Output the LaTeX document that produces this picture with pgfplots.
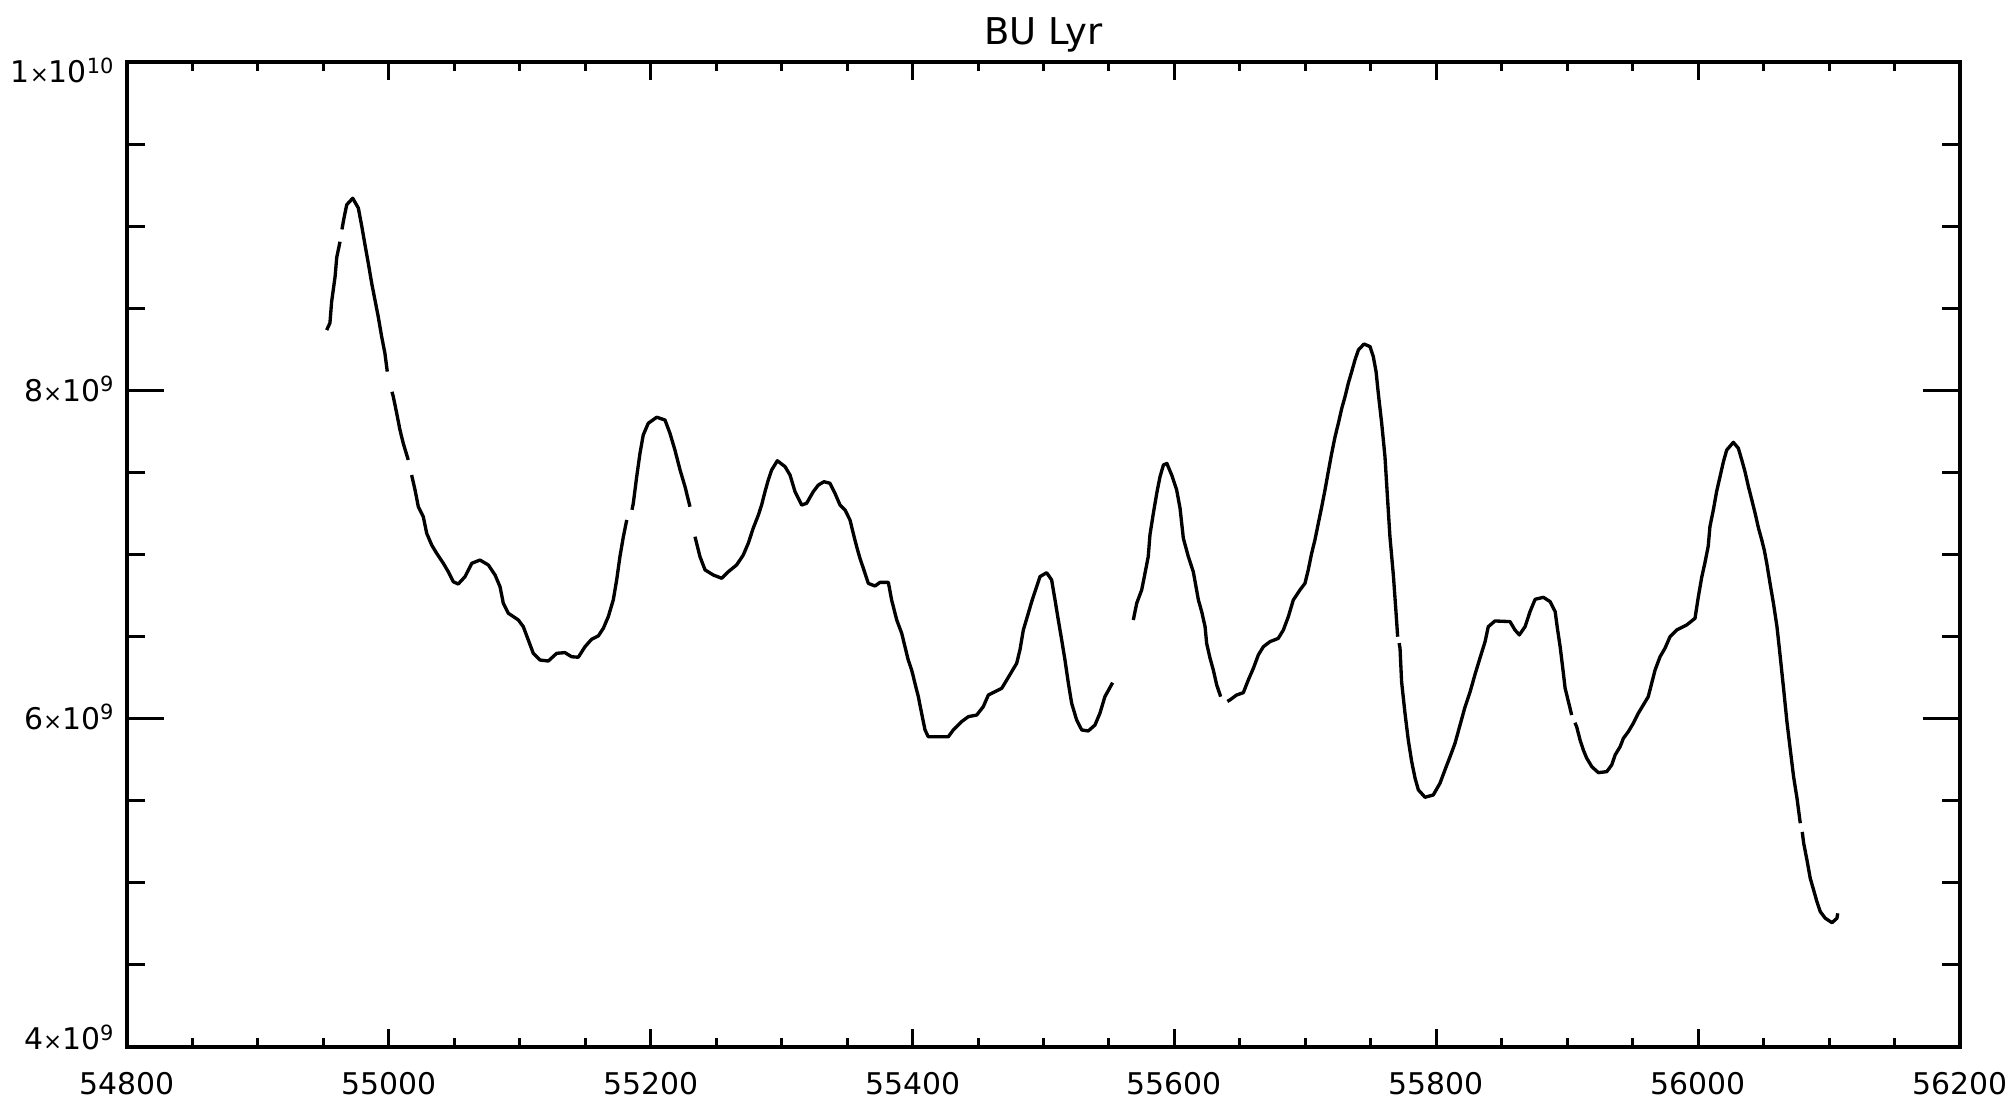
\documentclass[border=0pt]{standalone}
\usepackage{pgfplots}
\pgfplotsset{compat=1.18}
\usepackage{fontspec}
\setmainfont{DejaVu Sans}
\newcommand{\tms}{{\fontsize{6.5}{8}\selectfont ×}}
\begin{document}
\begin{tikzpicture}
\pgfplotsset{
  common/.style={
    scale only axis, width=18.33cm, height=9.85cm,
    xmin=54800, xmax=56200, ymin=4, ymax=10,
    scaled x ticks=false, scaled y ticks=false,
    axis line style={line width=1.1pt, black},
    tick style={line width=0.85pt, black},
    tick label style={font=\fontsize{8.5}{10}\selectfont},
  }
}
\begin{axis}[common, name=main,
  xtick={54800,55000,55200,55400,55600,55800,56000,56200},
  xticklabels={54800,55000,55200,55400,55600,55800,56000,56200},
  minor x tick num=3,
  ytick=\empty,
  major tick length=0.18cm, minor tick length=0.09cm,
  xticklabel style={anchor=base, inner sep=0pt, yshift=-0.48cm},
  title={BU Lyr},
  every axis title/.style={at={(0.5,1)}, anchor=base, yshift=0.17cm, inner sep=0pt, font=\fontsize{10.5}{12}\selectfont},
  unbounded coords=jump,
]
\addplot[black, line width=0.95pt, line join=round] table {
x y
54952.5 8.367
54955.0 8.41
54956.3 8.54
54958.9 8.69
54960.2 8.81
54962.7 8.905
nan nan
54964.2 8.98
54965.2 9.027
54967.8 9.13
54972.4 9.17
54976.7 9.11
54979.3 9.00
54981.8 8.885
54984.3 8.774
54986.9 8.652
54989.4 8.55
54991.9 8.448
54994.5 8.327
54997.0 8.225
54998.8 8.114
nan nan
55002.4 7.991
55003.4 7.961
55006.0 7.86
55008.5 7.758
55011.0 7.677
55014.8 7.576
nan nan
55017.4 7.484
55020.0 7.393
55022.5 7.291
55026.3 7.23
55028.9 7.129
55032.7 7.058
55036.5 7.007
55041.6 6.946
55045.4 6.895
55049.2 6.834
55053.0 6.82
55058.2 6.865
55063.3 6.946
55069.6 6.966
55076.0 6.936
55081.1 6.875
55084.9 6.804
55087.4 6.703
55091.2 6.642
55098.9 6.601
55102.7 6.56
55106.5 6.479
55110.3 6.398
55115.4 6.357
55121.8 6.351
55128.2 6.398
55134.5 6.402
55139.6 6.377
55144.7 6.374
55149.8 6.438
55154.9 6.484
55160.0 6.504
55163.8 6.55
55167.6 6.621
55171.4 6.723
55174.0 6.845
55176.5 6.987
55179.1 7.108
55181.7 7.21
nan nan
55185.7 7.272
55186.7 7.312
55189.3 7.474
55191.8 7.616
55194.3 7.728
55198.1 7.799
55204.6 7.836
55210.9 7.819
55214.7 7.738
55218.5 7.636
55222.4 7.515
55226.2 7.413
55230.0 7.291
nan nan
55233.8 7.108
55237.6 6.987
55241.5 6.906
55247.8 6.875
55254.2 6.855
55259.3 6.895
55265.6 6.936
55270.7 6.997
55274.5 7.068
55278.3 7.16
55282.2 7.24
55284.7 7.301
55287.3 7.383
55289.8 7.454
55292.4 7.515
55296.7 7.571
55302.6 7.535
55306.4 7.484
55310.2 7.383
55315.3 7.301
55319.1 7.312
55324.2 7.383
55328.0 7.423
55332.3 7.443
55336.9 7.434
55340.7 7.373
55344.6 7.301
55348.4 7.271
55352.2 7.21
55354.7 7.129
55357.3 7.047
55359.8 6.977
55362.4 6.916
55366.2 6.824
55371.3 6.808
55375.1 6.83
55381.5 6.83
55384.0 6.723
55387.9 6.601
55391.7 6.52
55394.2 6.438
55396.7 6.357
55399.3 6.296
55400.6 6.255
55401.8 6.215
55404.4 6.134
55406.9 6.033
55409.5 5.931
55412.0 5.89
55427.3 5.89
55431.1 5.931
55437.5 5.982
55442.6 6.012
55449.0 6.022
55454.0 6.073
55457.9 6.144
55463.0 6.164
55468.1 6.185
55471.9 6.235
55475.7 6.286
55479.5 6.337
55482.0 6.418
55484.6 6.54
55488.4 6.642
55491.0 6.713
55493.5 6.774
55497.3 6.865
55502.4 6.889
55506.2 6.845
55508.8 6.723
55511.3 6.601
55513.9 6.479
55516.4 6.357
55519.0 6.215
55521.5 6.094
55525.3 5.992
55529.2 5.931
55534.2 5.925
55539.3 5.961
55543.1 6.033
55546.9 6.134
55552.8 6.219
nan nan
55568.6 6.601
55571.2 6.703
55575.0 6.784
55577.5 6.885
55580.0 6.987
55581.3 7.119
55583.9 7.251
55586.5 7.373
55589.0 7.474
55591.6 7.545
55594.2 7.555
55596.0 7.52
55597.9 7.484
55601.7 7.393
55604.3 7.281
55606.8 7.099
55610.6 6.987
55614.4 6.895
55618.3 6.723
55620.8 6.652
55623.4 6.56
55624.6 6.459
55627.2 6.368
55629.7 6.296
55632.3 6.205
55635.3 6.134
nan nan
55640.4 6.105
55642.4 6.114
55647.5 6.144
55652.6 6.158
55656.4 6.235
55660.3 6.307
55664.1 6.388
55667.9 6.438
55673.0 6.469
55679.3 6.489
55683.2 6.54
55687.0 6.621
55690.8 6.723
55695.9 6.784
55699.7 6.824
55702.2 6.906
55704.8 7.007
55707.3 7.088
55709.9 7.19
55712.5 7.291
55715.0 7.393
55717.5 7.504
55720.1 7.616
55722.7 7.718
55725.2 7.799
55727.8 7.89
55730.3 7.961
55732.8 8.043
55735.4 8.114
55737.9 8.185
55740.5 8.246
55744.8 8.282
55749.4 8.266
55751.9 8.205
55754.0 8.114
55755.7 7.982
55758.3 7.799
55760.8 7.596
55762.6 7.362
55764.6 7.108
55767.2 6.875
55769.2 6.652
55770.5 6.499
nan nan
55771.6 6.46
55772.3 6.429
55773.5 6.225
55776.1 6.033
55778.6 5.87
55781.2 5.738
55783.8 5.637
55786.3 5.566
55791.4 5.521
55797.7 5.535
55802.8 5.606
55806.6 5.687
55810.5 5.768
55814.3 5.85
55818.1 5.96
55821.9 6.07
55825.7 6.16
55829.6 6.27
55833.4 6.37
55837.3 6.47
55839.7 6.56
55844.8 6.595
55856.3 6.591
55860.1 6.54
55863.4 6.51
55867.8 6.56
55871.6 6.652
55875.5 6.727
55881.8 6.739
55886.9 6.713
55890.8 6.652
55892.5 6.55
55894.6 6.438
55896.6 6.307
55898.4 6.185
55900.9 6.104
55903.4 6.022
nan nan
55905.9 5.975
55907.2 5.951
55909.8 5.87
55912.3 5.809
55914.9 5.759
55918.8 5.707
55923.8 5.671
55930.2 5.677
55934.0 5.718
55936.6 5.779
55940.4 5.829
55942.9 5.88
55946.7 5.921
55950.5 5.972
55954.3 6.033
55958.1 6.083
55961.9 6.134
55964.5 6.215
55967.1 6.296
55970.9 6.377
55974.7 6.429
55978.5 6.499
55983.6 6.54
55991.3 6.571
55997.6 6.611
56000.1 6.74
56002.7 6.86
56005.2 6.95
56007.7 7.05
56009.0 7.17
56011.6 7.271
56014.1 7.383
56016.7 7.474
56019.3 7.565
56021.8 7.636
56026.9 7.683
56030.7 7.647
56033.3 7.576
56035.8 7.504
56038.4 7.413
56041.0 7.332
56043.5 7.251
56046.1 7.16
56048.6 7.088
56050.5 7.027
56052.4 6.946
56054.9 6.824
56057.5 6.703
56060.2 6.56
56062.7 6.377
56065.3 6.179
56067.8 5.982
56070.4 5.809
56072.9 5.646
56075.5 5.515
56078.0 5.363
nan nan
56079.5 5.31
56080.6 5.241
56083.1 5.139
56085.6 5.028
56088.2 4.956
56090.7 4.885
56093.3 4.824
56097.1 4.784
56102.2 4.757
56106.0 4.784
56106.6 4.814
};
\end{axis}
\begin{axis}[common,
  xtick=\empty,
  ytick={4,6,8,10},
  yticklabels={\raisebox{0.08cm}{4\tms10\textsuperscript{9}},6\tms10\textsuperscript{9},8\tms10\textsuperscript{9},\raisebox{-0.1cm}{1\tms10\textsuperscript{10}}},
  minor y tick num=3,
  major tick length=0.37cm, minor tick length=0.18cm,
  yticklabel style={anchor=base east, inner sep=0pt, xshift=-0.11cm, yshift=-0.11cm},
]
\end{axis}
\path ([shift={(-1.27cm,-0.56cm)}]main.south west) rectangle ([shift={(0.52cm,0.62cm)}]main.north east);
\end{tikzpicture}
\end{document}
